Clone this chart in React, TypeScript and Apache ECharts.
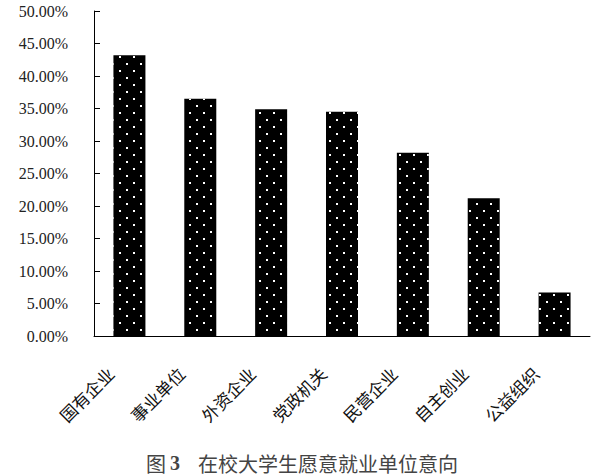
import React, { useEffect, useRef } from "react";
import * as echarts from "echarts";

const categories = ["国有企业", "事业单位", "外资企业", "党政机关", "民营企业", "自主创业", "公益组织"];
const values = [43.2, 36.5, 34.9, 34.5, 28.2, 21.2, 6.7];
const yMin = 0;
const yMax = 50;
const yStep = 5;

const serif = "Times New Roman";
const cjk = "Noto Sans CJK SC";

export default function App() {
  const ref = useRef<HTMLDivElement>(null);
  useEffect(() => {
    if (!ref.current) return;
    const chart = echarts.init(ref.current, null, { renderer: "svg" });
    chart.setOption({
      animation: false,
      backgroundColor: "#fff",
      textStyle: { fontFamily: serif },
      title: {
        text: "{a|图}{b|3}    {a|在校大学生愿意就业单位意向}",
        left: 141,
        top: 448,
        textStyle: {
          fontFamily: cjk,
          fontSize: 20,
          fontWeight: "normal",
          color: "#444",
          rich: {
            a: { fontFamily: cjk, fontSize: 20, color: "#444" },
            b: { fontFamily: serif, fontSize: 20, fontWeight: "bold", color: "#444", padding: [0, 0, 0, 4] },
          },
        },
      },
      grid: { left: 94, right: 12, top: 11, bottom: 140, containLabel: false },
      xAxis: {
        type: "category",
        data: categories,
        axisLine: { lineStyle: { color: "#000", width: 1 } },
        axisTick: { inside: true, length: 5, lineStyle: { color: "#000" } },
        axisLabel: {
          rotate: 45,
          margin: 15,
          padding: [0, 27, 0, 0],
          fontFamily: cjk,
          fontSize: 17,
          color: "#111",
          interval: 0,
        },
      },
      yAxis: {
        type: "value",
        min: yMin,
        max: yMax,
        interval: yStep,
        splitLine: { show: false },
        axisLine: { show: true, lineStyle: { color: "#000", width: 1 } },
        axisTick: { show: true, inside: true, length: 6, lineStyle: { color: "#000" } },
        axisLabel: {
          margin: 26,
          fontFamily: serif,
          fontSize: 16,
          color: "#222",
          formatter: (v: number) => v.toFixed(2) + "%",
        },
      },
      series: [
        {
          type: "bar",
          data: values,
          barWidth: 32,
          itemStyle: {
            color: "#000",
            decal: {
              symbol: "rect",
              symbolSize: 1,
              color: "#ffffff",
              dashArrayX: [[1.5, 11.5], [0, 6.5, 1.5, 5]],
              dashArrayY: [1.5, 5],
              rotation: 0,
            },
          },
        },
      ],
    });
    return () => chart.dispose();
  }, []);
  return (
    <div
      ref={ref}
      style={{ position: "fixed", left: 0, top: 0, width: 602, height: 476 }}
    />
  );
}
